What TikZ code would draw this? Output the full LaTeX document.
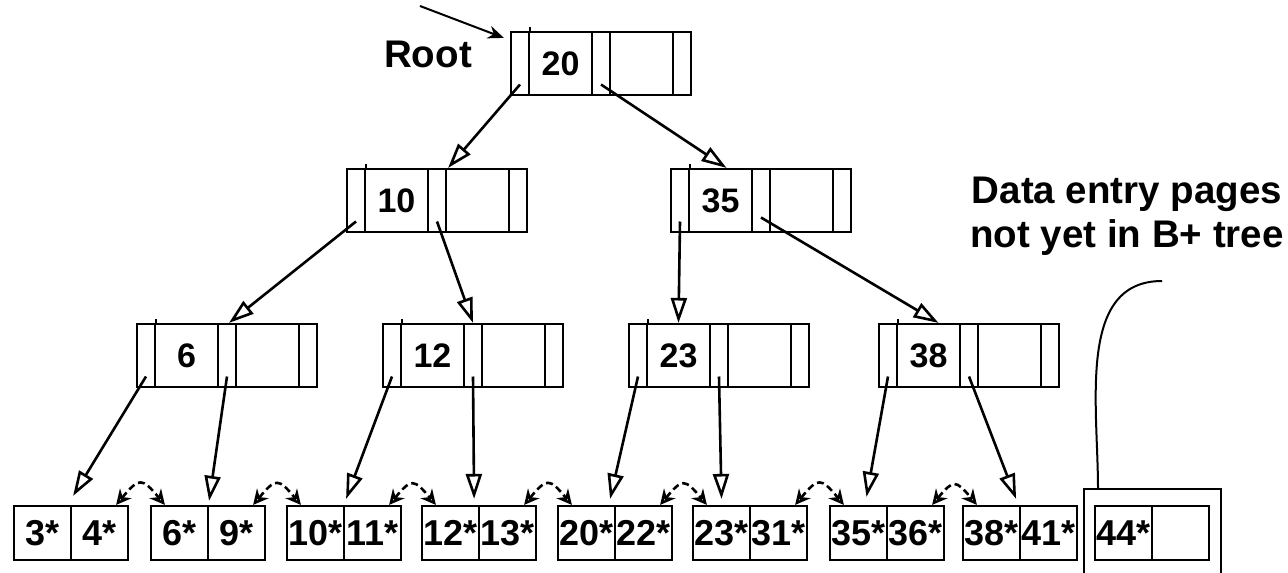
\documentclass[tikz,border=0pt]{standalone}
\usepackage{fontspec}
\setmainfont{Liberation Sans}
\usetikzlibrary{arrows.meta}

% index page: name, left x, top y, key
\newcommand{\bnode}[4]{%
\node[ptr]     (#1-l) at (#2+9,#3+31.5) {};
\node[keycell] (#1)   at (#2+49.5,#3+31.5) {#4};
\node[ptr]     (#1-m) at (#2+90,#3+31.5) {};
\node[keycell] (#1-r) at (#2+130.5,#3+31.5) {};
\node[ptr]     (#1-e) at (#2+171,#3+31.5) {};
\draw[line width=2.2pt] (#1-l.north east) -- ([yshift=4pt]#1-l.north east);
}
% leaf page: name, left x, two entries
\newcommand{\leafpage}[4]{%
\node[entry] (#1a) at (#2+28.5,533) {#3};
\node[entry] (#1b) at (#2+85.5,533) {#4};
}

\begin{document}
\begin{tikzpicture}[x=1pt,y=-1pt,
  ptr/.style={draw,line width=2.2pt,inner sep=0pt,minimum width=18pt,minimum height=63pt},
  keycell/.style={draw,line width=2.2pt,inner sep=0pt,minimum width=63pt,minimum height=63pt,font=\fontsize{34}{38}\selectfont\bfseries},
  entry/.style={draw,line width=2.2pt,inner sep=0pt,minimum width=57pt,minimum height=54pt,font=\fontsize{36}{40}\selectfont\bfseries},
  bigtext/.style={font=\fontsize{38.5}{44}\selectfont\bfseries,align=center},
  treeptr/.style={line width=2.6pt,-{Triangle[open,length=25pt,width=16pt]}},
  rootptr/.style={line width=2pt,-{Stealth[length=16pt,width=13pt]}},
  leaflink/.style={line width=2.6pt,dash pattern=on 7pt off 4pt,{Stealth[open,length=15pt,width=15pt]}-{Stealth[open,length=15pt,width=15pt]}}]
\useasboundingbox (0,0) rectangle (1288,573);

% index levels
\bnode{n20}{511}{32}{20}
\bnode{n10}{347}{169}{10}
\bnode{n35}{671}{169}{35}
\bnode{n6}{137}{324}{6}
\bnode{n12}{383}{324}{12}
\bnode{n23}{629}{324}{23}
\bnode{n38}{879}{324}{38}

% leaf level
\leafpage{l1}{14}{3*}{4*}
\leafpage{l2}{151}{6*}{9*}
\leafpage{l3}{287}{10*}{11*}
\leafpage{l4}{422}{12*}{13*}
\leafpage{l5}{558}{20*}{22*}
\leafpage{l6}{693}{23*}{31*}
\leafpage{l7}{830}{35*}{36*}
\leafpage{l8}{963}{38*}{41*}
\leafpage{l9}{1095}{44*}{}

\node[bigtext] (root) at (428,54) {Root};
\coordinate (rootin) at (420,6);
\draw[rootptr] (rootin) -- ([xshift=-6pt,yshift=-7pt]n20-l.north west);

\draw[treeptr] ([yshift=-21pt]n20-l.center) -- ([xshift=1pt]n10-m.north east);
\draw[treeptr] ([yshift=-21pt]n20-m.center) -- ([xshift=6pt]n35.north);
\draw[treeptr] ([yshift=-21pt]n10-l.center) -- ([xshift=2pt]n6-m.north);
\draw[treeptr] ([yshift=-21pt]n10-m.center) -- (n12-m.north);
\draw[treeptr] ([yshift=-21pt]n35-l.center) -- (n23.north);
\draw[treeptr] ([yshift=-17pt]n35-m.center) -- ([xshift=10pt]n38.north);

\draw[treeptr] ([yshift=-21pt]n6-l.center) -- ([xshift=1pt,yshift=9pt]l1a.north east);
\draw[treeptr] ([yshift=-21pt]n6-m.center) -- ([yshift=4pt]l2a.north east);
\draw[treeptr] ([yshift=-21pt]n12-l.center) -- ([xshift=1pt,yshift=6pt]l3a.north east);
\draw[treeptr] ([yshift=-21pt]n12-m.center) -- ([xshift=-6pt,yshift=6pt]l4a.north east);
\draw[treeptr] ([yshift=-21pt]n23-l.center) -- ([xshift=-6pt,yshift=6pt]l5a.north east);
\draw[treeptr] ([yshift=-21pt]n23-m.center) -- ([yshift=6pt]l6a.north);
\draw[treeptr] ([yshift=-21pt]n38-l.center) -- ([xshift=8pt,yshift=8pt]l7a.north);
\draw[treeptr] ([yshift=-21pt]n38-m.center) -- ([xshift=-5pt,yshift=6pt]l8a.north east);

% sibling pointers
\foreach \i/\j in {1/2,2/3,3/4,4/5,5/6,6/7,7/8}
  \draw[leaflink] ([xshift=-13pt]l\i b.north east) to[out=50,in=130,looseness=1.9] ([xshift=15pt]l\j a.north west);

% page not yet in the tree
\draw[line width=2.4pt] (1084,573) -- (1084,489) -- (1221,489) -- (1221,573);
\node[bigtext] (note) at (1127,216) {Data entry pages\\not yet in B+ tree};
\coordinate (frametop) at (1098,489);
\coordinate (noteend) at (1162,281);
\draw[line width=2pt] (frametop) to[out=90,in=180] (noteend);
\end{tikzpicture}
\end{document}
